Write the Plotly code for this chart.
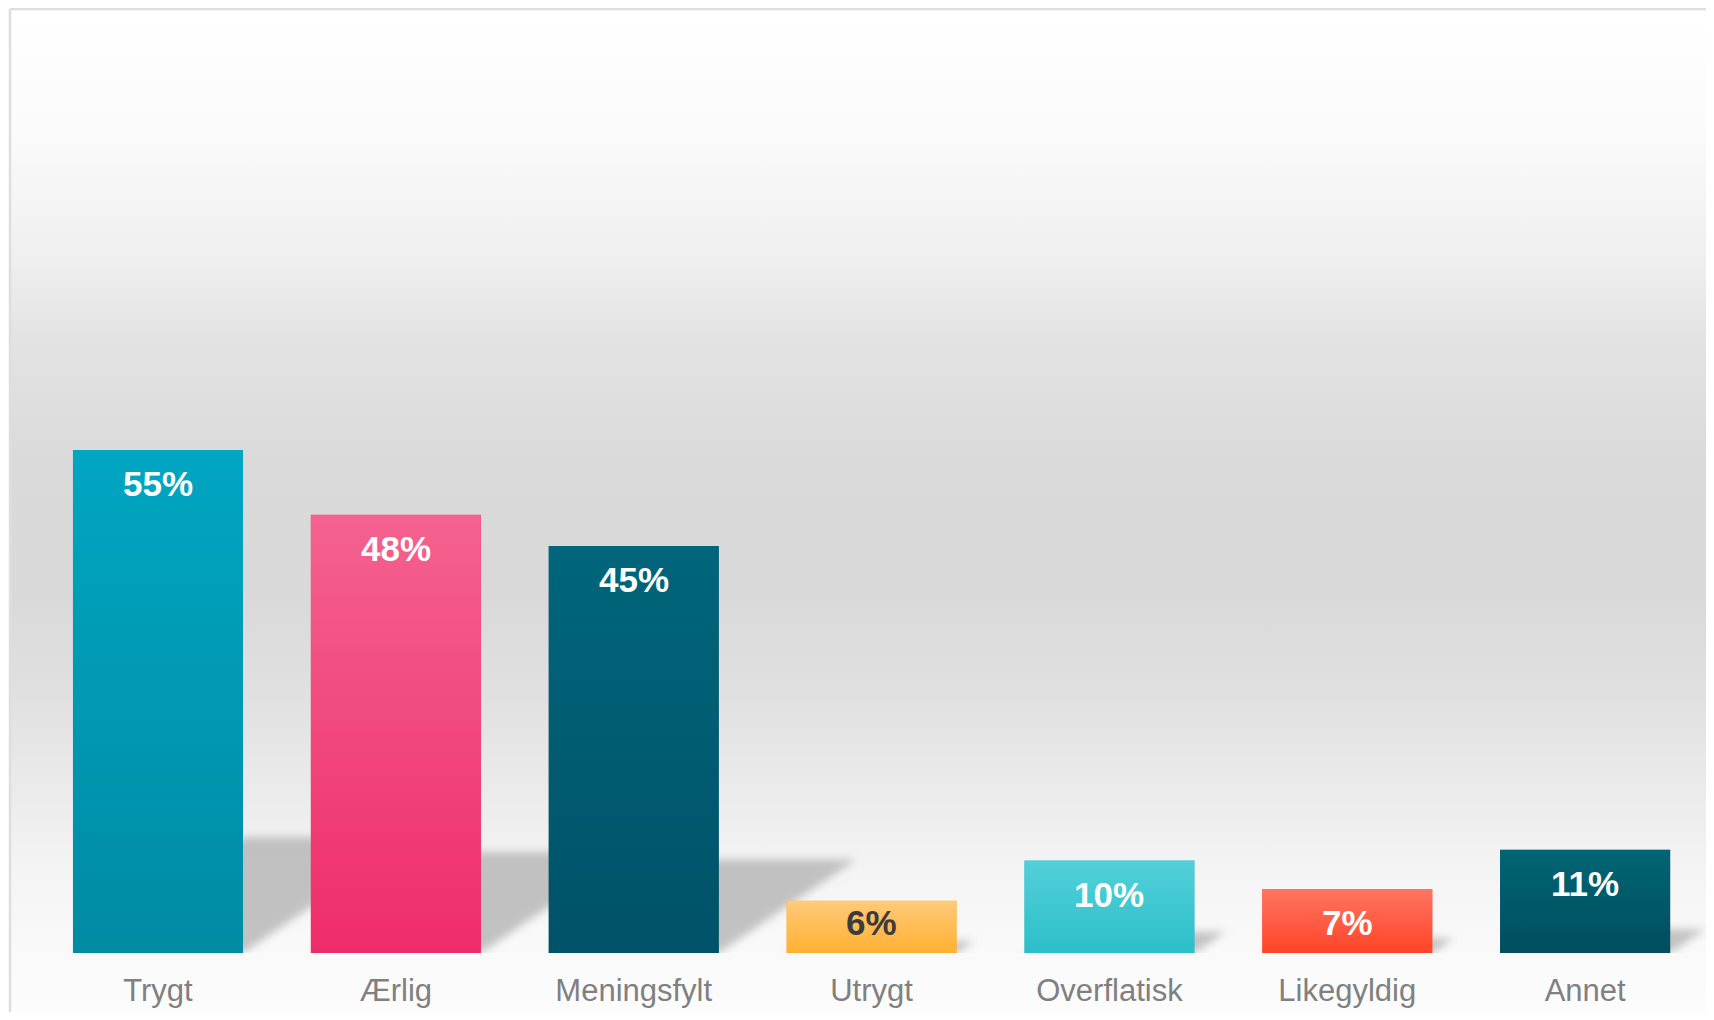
import base64

import plotly.graph_objects as go

# data
categories = ["Trygt", "Ærlig", "Meningsfylt", "Utrygt", "Overflatisk", "Likegyldig", "Annet"]
values = [55.0, 47.9, 44.5, 5.7, 10.1, 7.0, 11.3]
value_labels = ["55%", "48%", "45%", "6%", "10%", "7%", "11%"]
color_top = ["#00a6c2", "#f4628f", "#00667b", "#ffca7a", "#53d0d9", "#ff7562", "#006574"]
color_bottom = ["#008ba3", "#ef2c6b", "#005268", "#ffb032", "#2cbfc9", "#ff4428", "#004e5f"]
label_colors = ["#ffffff", "#ffffff", "#ffffff", "#3c3c3c", "#ffffff", "#ffffff", "#ffffff"]

# page body keeps its default 8px margin, so the figure is sized to fit inside it
W, H = 1698, 1004
M_L, M_R, M_T, M_B = 2, 0, 1, 59
PLOT_H = H - M_T - M_B
X_RANGE = [-0.6222, 6.508]
Y_MAX = 103.2
BAR_W = 0.715
PX_PER_Y = PLOT_H / Y_MAX
PX_PER_X = (W - M_L - M_R) / (X_RANGE[1] - X_RANGE[0])
FONT = "Liberation Sans, Arial, sans-serif"

SHADOW_K = 0.23      # shadow length relative to bar height
SHADOW_SLANT = 1.47  # horizontal run per vertical px of the shadow
BLUR = 4.5
PAD = 18


def to_uri(svg):
    return "data:image/svg+xml;base64," + base64.b64encode(svg.encode()).decode()


def gradient_uri(stops):
    st = "".join(f"<stop offset='{o}' stop-color='{c}'/>" for o, c in stops)
    svg = (
        "<svg xmlns='http://www.w3.org/2000/svg' width='10' height='100' viewBox='0 0 10 100' "
        "preserveAspectRatio='none'><defs><linearGradient id='g' x1='0' y1='0' x2='0' y2='1'>"
        f"{st}</linearGradient></defs><rect width='10' height='100' fill='url(#g)'/></svg>"
    )
    return to_uri(svg)


def shadow_uri(w, h, pts):
    poly = " ".join(f"{x:.1f},{y:.1f}" for x, y in pts)
    svg = (
        f"<svg xmlns='http://www.w3.org/2000/svg' width='{w:.1f}' height='{h:.1f}' "
        f"viewBox='0 0 {w:.1f} {h:.1f}' preserveAspectRatio='none'><defs>"
        f"<filter id='b' filterUnits='userSpaceOnUse' x='0' y='0' width='{w:.1f}' height='{h:.1f}'>"
        f"<feGaussianBlur stdDeviation='{BLUR}'/></filter></defs>"
        f"<polygon points='{poly}' fill='rgb(178,178,178)' fill-opacity='0.78' filter='url(#b)'/></svg>"
    )
    return to_uri(svg)


xs = list(range(len(categories)))

fig = go.Figure()
fig.add_bar(
    x=xs,
    y=values,
    width=BAR_W,
    marker=dict(color=color_bottom, line=dict(width=0)),
    hoverinfo="skip",
)

images = []
# grey studio-like backdrop
bg_stops = [
    (0, "#ffffff"), (0.12, "#fbfbfb"), (0.25, "#efefef"), (0.33, "#e3e3e3"),
    (0.45, "#dadada"), (0.58, "#d9d9d9"), (0.68, "#e0e0e0"), (0.78, "#ebebeb"),
    (0.86, "#f4f4f4"), (0.93, "#f9f9f9"), (1, "#fcfcfc"),
]
images.append(dict(
    source=gradient_uri(bg_stops), xref="paper", yref="paper", x=0, y=1,
    sizex=1.01, sizey=(H - M_T) / PLOT_H, xanchor="left", yanchor="top",
    sizing="stretch", layer="below",
))

for i, v in enumerate(values):
    # slanted, blurred floor shadow drawn in plot pixels then placed on the axes
    sh = SHADOW_K * v * PX_PER_Y
    dx = sh * SHADOW_SLANT
    xl = (i - BAR_W / 2 - X_RANGE[0]) * PX_PER_X
    xr = (i + BAR_W / 2 - X_RANGE[0]) * PX_PER_X
    left, right = xl - PAD, xr + dx + PAD
    bottom, top = -PAD, sh + PAD
    corners = [(xl, 0), (xr, 0), (xr + dx, sh), (xl + dx, sh)]
    pts = [(px - left, top - py) for px, py in corners]
    images.append(dict(
        source=shadow_uri(right - left, top - bottom, pts),
        xref="x", yref="y", x=left / PX_PER_X + X_RANGE[0], y=top / PX_PER_Y,
        sizex=(right - left) / PX_PER_X, sizey=(top - bottom) / PX_PER_Y,
        xanchor="left", yanchor="top", sizing="stretch", layer="below",
    ))

for i, v in enumerate(values):
    # gradient skin over each bar
    images.append(dict(
        source=gradient_uri([(0, color_top[i]), (1, color_bottom[i])]),
        xref="x", yref="y", x=i - BAR_W / 2, y=v, sizex=BAR_W, sizey=v,
        xanchor="left", yanchor="top", sizing="stretch", layer="above",
    ))

# frame border (left and top edges only, the rest runs off the page)
frame = dict(color="#dedede", width=2.5)
shapes = [
    dict(type="line", xref="paper", yref="paper", x0=0, x1=0, y0=-0.2, y1=1, line=frame),
    dict(type="line", xref="paper", yref="paper", x0=0, x1=1.05, y0=1, y1=1, line=frame),
]

annotations = []
for i, v in enumerate(values):
    shift = min(33.5, v * PX_PER_Y - 30)
    annotations.append(dict(
        x=i, y=v, xref="x", yref="y", text=f"<b>{value_labels[i]}</b>",
        showarrow=False, yanchor="middle", yshift=-shift,
        font=dict(family=FONT, size=35, color=label_colors[i]),
    ))

fig.update_layout(
    width=W,
    height=H,
    margin=dict(l=M_L, r=M_R, t=M_T, b=M_B, autoexpand=False),
    paper_bgcolor="#ffffff",
    plot_bgcolor="rgba(0,0,0,0)",
    showlegend=False,
    images=images,
    shapes=shapes,
    annotations=annotations,
    xaxis=dict(
        range=X_RANGE, tickvals=xs, ticktext=categories, showgrid=False,
        zeroline=False, showline=False, ticks="outside", ticklen=10,
        tickcolor="rgba(0,0,0,0)", tickfont=dict(family=FONT, size=31, color="#808080"),
        fixedrange=True,
    ),
    yaxis=dict(range=[0, Y_MAX], visible=False, fixedrange=True),
)

fig.write_html("out.html")
